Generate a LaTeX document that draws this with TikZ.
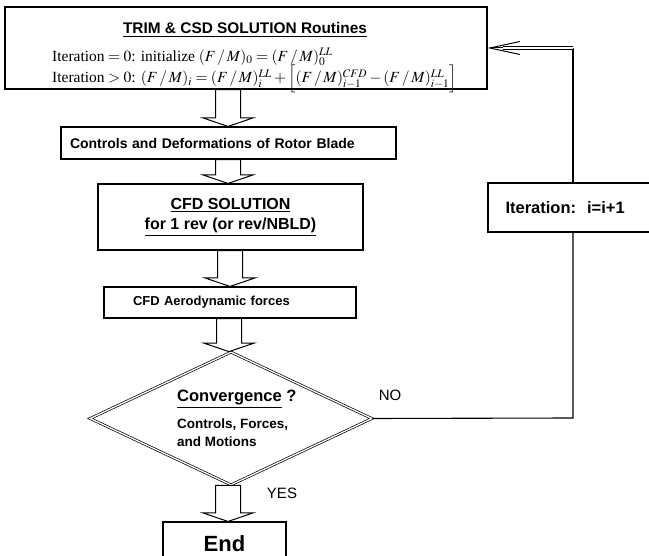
\documentclass[tikz,border=0pt]{standalone}
\usepackage{amsmath}
\usepackage{mathptmx}
\usepackage[no-math]{fontspec}
\setmainfont{Liberation Sans}
\newfontfamily\tms{Liberation Serif}
\usetikzlibrary{arrows.meta, shapes.geometric, calc}

%% hollow block arrow between two stacked nodes: #1 x centre, #2 upper, #3 lower
\newcommand{\blockarr}[3]{%
  \draw[blkarrow] let \p1=(#2.south), \p2=(#3.north) in
    ({#1pt-12.5pt},\y1) -- ({#1pt-12.5pt},{\y2+8.5pt}) -- ({#1pt-25pt},{\y2+8.5pt})
    -- (#1pt,\y2) -- ({#1pt+25pt},{\y2+8.5pt}) -- ({#1pt+12.5pt},{\y2+8.5pt})
    -- ({#1pt+12.5pt},\y1) -- cycle;}
\newcommand{\FM}{F\mkern2mu/\mkern2mu M}

\begin{document}
\begin{tikzpicture}[x=1pt, y=-1pt,
  box/.style={
    draw, line width=1.1pt, fill=white, inner sep=0pt
  },
  lbl/.style={
    inner sep=0pt, font=\bfseries
  },
  formula/.style={
    anchor=west, inner sep=0pt, font=\tms\fontsize{15.5}{18}\selectfont
  },
  blkarrow/.style={draw, line width=1pt, fill=white, line join=miter},
  link/.style={line width=1.1pt},
]
\useasboundingbox (0,0) rectangle (649,556);

%% ---- TRIM & CSD box ----
\node[box, minimum width=482pt, minimum height=82pt] (trim) at (246,48) {};
\node[lbl, font=\fontsize{15.4}{18}\selectfont\bfseries] (trimtitle) at (245,30)
  {\underline{TRIM \& CSD SOLUTION Routines}};
\node[formula] (iterzero) at (52,57)
  {$\text{Iteration} = 0\text{: initialize } (\FM)_0 = (\FM)_0^{LL}$};
\node[formula] (iterpos) at (52,79)
  {$\text{Iteration} > 0\text{: } (\FM)_i = (\FM)_i^{LL}
    + \Big[(\FM)_{i-1}^{CFD} - (\FM)_{i-1}^{LL}\Big]$};

%% ---- Flow boxes ----
\node[box, minimum width=335pt, minimum height=32pt, text width=317pt, inner xsep=9pt,
  align=left, font=\fontsize{14}{17}\selectfont\bfseries] (ctrl) at (228.5,143)
  {Controls and Deformations of Rotor Blade};
\node[box, minimum width=265pt, minimum height=66pt, align=center,
  font=\fontsize{16}{20}\selectfont\bfseries] (cfd) at (230.5,217)
  {\underline{CFD SOLUTION}\\\underline{for 1 rev (or rev/NBLD)}};
\node[box, minimum width=252pt, minimum height=31pt, text width=194pt, inner xsep=29pt,
  align=left, font=\fontsize{13}{16}\selectfont\bfseries] (aero) at (230,302.5)
  {CFD Aerodynamic forces};

%% ---- Convergence check ----
\node[draw, diamond, double, double distance=1.3pt, line width=0.7pt, fill=white,
  minimum width=282pt, minimum height=133pt, inner sep=0pt] (conv) at (231,418.5) {};
\node[lbl, anchor=west, font=\fontsize{16.5}{18}\selectfont\bfseries] (convtitle) at (177,399)
  {\underline{Convergence} ?};
\node[lbl, anchor=west, align=left, font=\fontsize{13.5}{18}\selectfont\bfseries] (convtext)
  at (177,433) {Controls, Forces,\\and Motions};

\node[box, minimum width=123pt, minimum height=44pt,
  font=\fontsize{22}{26}\selectfont\bfseries] (endbox) at (224.5,544) {End};

%% ---- Iteration update ----
\node[box, minimum width=167pt, minimum height=49pt, text width=132pt, inner xsep=15pt,
  align=left, font=\fontsize{16.5}{18}\selectfont\bfseries] (iter) at (571.5,207.5)
  {Iteration:\ \ i=i+1};

\node[inner sep=0pt, font=\fontsize{15}{18}\selectfont] (no)  at (390,395) {NO};
\node[inner sep=0pt, font=\fontsize{15}{18}\selectfont] (yes) at (282,493) {YES};

%% ---- Block arrows ----
\blockarr{228}{trim}{ctrl}
\blockarr{228}{ctrl}{cfd}
\blockarr{230}{cfd}{aero}
\blockarr{229}{aero}{conv}
\blockarr{228}{conv}{endbox}

%% ---- Loop back ----
\coordinate (loopb) at (573,418);
\coordinate (loopt) at (573,48);
\coordinate (shaftend) at (503,48);
\draw[link] (conv.east) -- (loopb) -- (loopb |- iter.south);
\draw[link] (loopt |- iter.north) -- (loopt);
\draw[line width=0.9pt, double, double distance=1.6pt] (loopt) -- (shaftend);
\draw[line width=1pt, -{Straight Barb[length=30pt, width=13pt]}] (shaftend) -- (trim.east);

\end{tikzpicture}
\end{document}
